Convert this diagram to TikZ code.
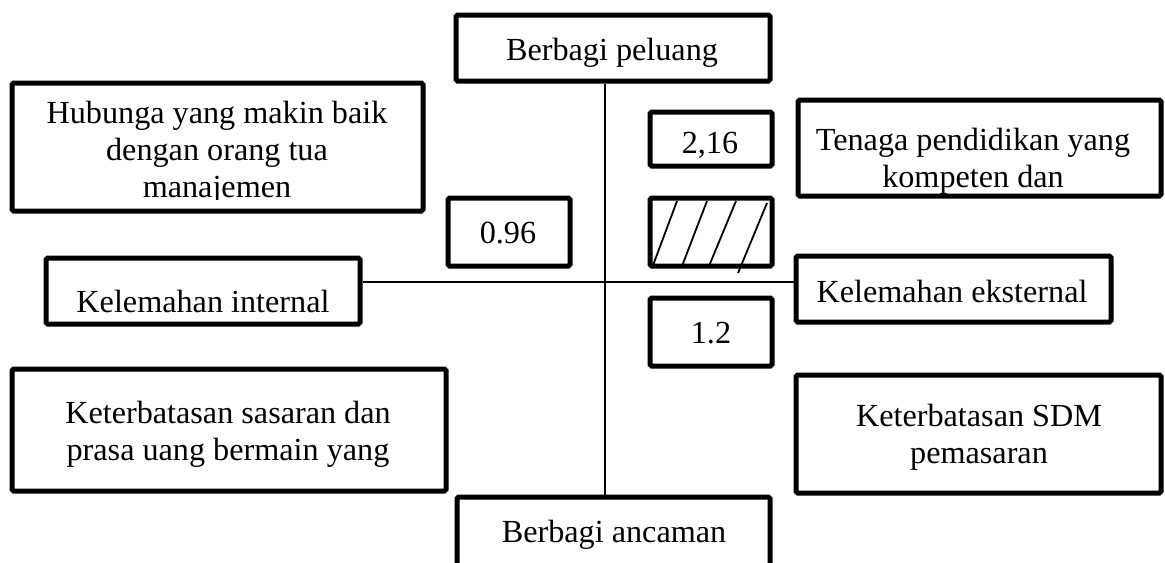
\documentclass[tikz,border=0pt]{standalone}
\usepackage{fontspec}
\setmainfont{Liberation Serif}
\usetikzlibrary{fit}
\begin{document}
\begin{tikzpicture}[x=0.5pt,y=-0.5pt,
  box/.style={draw=black,line width=2.5pt,rounded corners=0.8pt,inner sep=0pt,fill=none},
  lbl/.style={anchor=base,inner sep=0pt,align=center,font=\fontsize{16.1pt}{18.3pt}\selectfont},
  axis/.style={draw=black,line width=1pt},
  hatchline/.style={draw=black,line width=0.9pt}]
\clip (0,0) rectangle (1165,562);
\useasboundingbox (0,0) rectangle (1165,562);
% boxes
\node[box,fit={(456,15) (770,81)}] (peluang) {};
\node[box,fit={(12,83) (423,211)}] (hub) {};
\node[box,fit={(798,100) (1161,196)}] (tenaga) {};
\node[box,fit={(650,112) (772,166)}] (b216) {};
\node[box,fit={(448,198) (570,266)}] (b096) {};
\node[box,fit={(650,198) (772,266)}] (hatch) {};
\node[box,fit={(46,258) (360,324)}] (kint) {};
\node[box,fit={(796,256) (1111,322)}] (keks) {};
\node[box,fit={(650,298) (772,366)}] (b12) {};
\node[box,fit={(12,369) (446,491)}] (sasaran) {};
\node[box,fit={(796,375) (1161,493)}] (sdm) {};
\node[box,fit={(457,497) (770,600)}] (ancaman) {};
% texts (multi-line nodes: base anchor is the last line's baseline)
\node[lbl] (tpeluang) at (612,60) {Berbagi peluang};
\begin{scope}
\clip (12,83) rectangle (423,199);
\node[lbl] (thub) at (217,197) {Hubunga yang makin baik\\dengan orang tua\\manajemen};
\end{scope}
\node[lbl] (ttenaga) at (973,187) {Tenaga pendidikan yang\\kompeten dan};
\node[lbl] (t216) at (710,153) {2,16};
\node[lbl] (t096) at (508,243) {0.96};
\node[lbl] (tkint) at (203,312) {Kelemahan internal};
\node[lbl] (tkeks) at (952,302) {Kelemahan eksternal};
\node[lbl] (t12) at (711,343) {1.2};
\node[lbl] (tsasaran) at (228,460) {Keterbatasan sasaran dan\\prasa uang bermain yang};
\node[lbl] (tsdm) at (979,463) {Keterbatasan SDM\\pemasaran};
\node[lbl] (tancaman) at (614,542) {Berbagi ancaman};
% axes
\coordinate (v) at (605,0);
\coordinate (h) at (0,282);
\draw[axis] (peluang.south -| v) -- (ancaman.north -| v);
\draw[axis] (kint.east |- h) -- (keks.west |- h);
% hatching
\draw[hatchline] (652,268) -- (677,201);
\draw[hatchline] (682,266) -- (707,201);
\draw[hatchline] (709,266) -- (736,201);
\draw[hatchline] (738,273) -- (767,203);
\end{tikzpicture}
\end{document}
